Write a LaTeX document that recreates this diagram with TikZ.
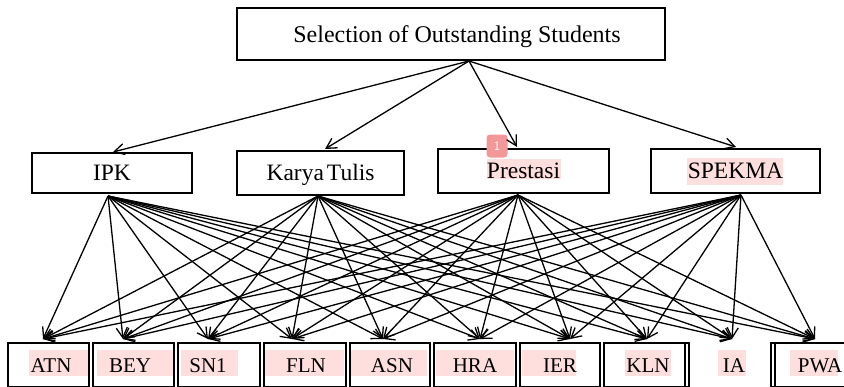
\documentclass[tikz,border=0pt]{standalone}
\usepackage{fontspec}
\setmainfont{Liberation Serif}
\usetikzlibrary{arrows.meta}
\definecolor{hl}{RGB}{255,222,222}
\definecolor{badgec}{RGB}{243,152,152}
\tikzset{
  box/.style={draw, line width=1.8pt, inner sep=0pt, font=\fontsize{23.5}{28}\selectfont, text height=15.5pt, text depth=0pt},
  bbox/.style={draw, line width=1.5pt, inner sep=0pt, minimum height=44pt},
  arr/.style={line width=1.3pt, -{Straight Barb[length=10pt,width=11pt,line width=1.3pt]}},
  blbl/.style={inner sep=0pt, anchor=base, font=\fontsize{21}{25}\selectfont},
}
\begin{document}
\begin{tikzpicture}[x=1pt,y=-1pt]
\clip (0,0) rectangle (844,386);
\fill[white] (0,0) rectangle (844,386);

% highlights
\fill[hl] (487,159) rectangle (561,179);
\fill[hl] (687,158) rectangle (783,185);
\foreach \a/\b in {29/88,97/173,181/238,265/344,351/427,436/514,522/576,625/671,718/746,790/838}
  \fill[hl] (\a,350) rectangle (\b,376);

% top
\node[draw, line width=1.8pt, minimum width=428pt, minimum height=52pt] (top) at (451,34) {};
\node[inner sep=0pt, font=\fontsize{24}{28}\selectfont, text height=16pt, text depth=0pt] (toptext) at (457,34) {Selection of Outstanding Students};

% middle
\node[box, minimum width=160pt, minimum height=40pt] (ipk) at (112,173) {IPK};
\node[box, minimum width=167pt, minimum height=44pt] (kt) at (320.5,173) {Karya\hspace{3pt}Tulis};
\node[box, minimum width=171pt, minimum height=44pt] (pre) at (523.5,171) {Prestasi};
\node[box, minimum width=169pt, minimum height=44pt] (spk) at (735.5,171) {SPEKMA};

% bottom frames
\node[bbox, minimum width=81pt] (bATN) at (48.5,365) {};
\node[bbox, minimum width=81pt] (bBEY) at (133.5,365) {};
\node[bbox, minimum width=82pt] (bSN1) at (219,365) {};
\node[bbox, minimum width=82pt] (bFLN) at (305,365) {};
\node[bbox, minimum width=80pt] (bASN) at (390,365) {};
\node[bbox, minimum width=82pt] (bHRA) at (475,365) {};
\node[bbox, minimum width=80pt] (bIER) at (560,365) {};
\node[bbox, minimum width=81pt] (bKLN) at (644.5,365) {};
\node[bbox, minimum width=85pt] (fKLN) at (646.5,365) {};
\node[bbox, minimum width=80pt] (bPWA) at (815,365) {};
\node[bbox, minimum width=88pt] (fPWA) at (815,365) {};

% bottom labels
\node[blbl] (ATN) at (51,372) {ATN};
\node[blbl] (BEY) at (130,372) {BEY};
\node[blbl] (SN1) at (208,372) {SN1};
\node[blbl] (FLN) at (306,372) {FLN};
\node[blbl] (ASN) at (392,372) {ASN};
\node[blbl] (HRA) at (475,372) {HRA};
\node[blbl] (IER) at (560,372) {IER};
\node[blbl] (KLN) at (648,372) {KLN};
\node[blbl] (IA) at (734,372) {IA};
\node[blbl] (PWA) at (820,372) {PWA};

% annotation badge
\node[fill=badgec, rounded corners=3.5pt, minimum width=21pt, minimum height=23pt, inner sep=0pt, text=white, font=\sffamily\fontsize{13}{14}\selectfont] (note) at (497,146) {1};

% connector end points
\coordinate (s-top) at (469,61);
\coordinate (e-ipk) at (113,152);
\coordinate (e-kt) at (325,149);
\coordinate (e-pre) at (517,147);
\coordinate (e-spk) at (736,147);
\coordinate (s-ipk) at (108,196);
\coordinate (s-kt) at (318,196);
\coordinate (s-pre) at (518,195);
\coordinate (s-spk) at (741,195);
\coordinate (t-ATN) at (43,339);
\coordinate (t-BEY) at (123,339);
\coordinate (t-SN1) at (208,339);
\coordinate (t-FLN) at (292,339);
\coordinate (t-ASN) at (383,339);
\coordinate (t-HRA) at (480,339);
\coordinate (t-IER) at (570,339);
\coordinate (t-KLN) at (647,339);
\coordinate (t-IA) at (732,339);
\coordinate (t-PWA) at (815,339);

\foreach \m in {ipk,kt,pre,spk}
  \draw[arr] (s-top) -- (e-\m);
\foreach \s in {ipk,kt,pre,spk}
  \foreach \t in {ATN,BEY,SN1,FLN,ASN,HRA,IER,KLN,IA,PWA}
    \draw[arr] (s-\s) -- (t-\t);
\end{tikzpicture}
\end{document}
